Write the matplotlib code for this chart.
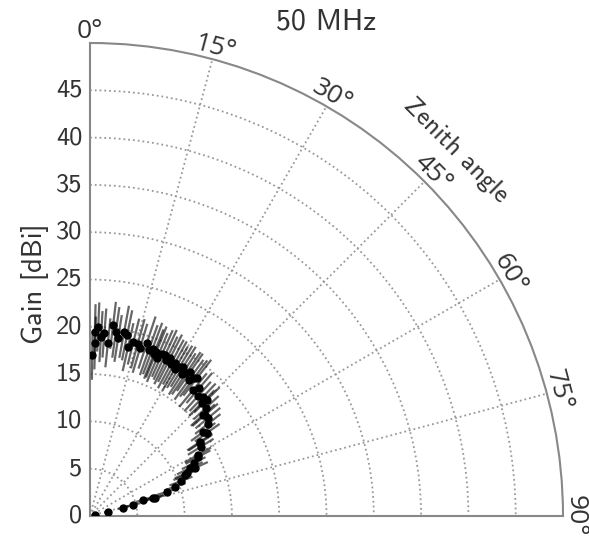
import numpy as np
import matplotlib.pyplot as plt

zenith_deg = [
    0.8, 1.5, 1.7, 2.5, 3.5, 4.5, 5.9, 6.9, 8.0, 9.0, 10.5, 11.6, 12.7, 14.0,
    15.5, 16.6, 18.2, 19.5, 20.5, 21.5, 22.0, 23.0, 24.0, 25.0, 26.0, 26.9,
    28.0, 29.0, 30.0, 31.0, 32.0, 33.0, 34.0, 34.8, 36.0, 37.0, 37.8, 39.3,
    40.5, 42.0, 43.5, 44.7, 45.2, 47.0, 48.2, 48.7, 50.3, 52.0, 53.4, 54.6,
    56.0, 56.4, 58.0, 60.5, 61.4, 63.0, 64.4, 65.4, 66.0, 66.7, 69.0, 71.0,
    72.5, 74.0, 74.5, 73.0, 75.6, 76.0, 77.0, 80.0,
]
gain_dbi = [
    17.0, 19.5, 18.3, 20.0, 19.0, 19.4, 18.4, 20.3, 19.6, 19.0, 19.8, 19.5, 18.3, 19.0,
    18.9, 18.5, 19.3, 18.6, 18.9, 18.4, 18.7, 18.2, 18.8, 18.8, 18.3, 18.7,
    18.2, 18.5, 18.0, 18.4, 18.6, 17.9, 18.2, 18.5, 17.8, 18.2, 18.5, 17.2,
    17.8, 17.0, 17.3, 16.8, 17.4, 16.8, 16.0, 16.2, 16.2, 15.8, 14.9, 15.2,
    14.0, 14.0, 13.8, 13.1, 13.0, 12.3, 11.7, 12.2, 11.2, 10.9, 10.3, 9.5,
    8.5, 6.9, 7.1, 5.85, 4.7, 3.6, 1.95, 0.5,
]
gain_err = [
    2.6, 2.9, 2.8, 2.6, 2.7, 2.6, 2.6, 2.5, 2.7, 2.5, 2.8, 2.7, 2.6, 2.5,
    2.7, 2.7, 2.9, 2.8, 2.9, 2.8, 2.9, 2.8, 2.7, 2.9, 2.8, 2.8,
    2.9, 2.6, 2.7, 2.6, 2.5, 2.6, 2.7, 2.4, 2.6, 2.4, 2.4, 2.3,
    2.1, 2.1, 2.0, 1.9, 1.9, 1.8, 1.7, 1.8, 1.7, 1.7, 1.6, 1.6,
    1.6, 1.5, 1.6, 1.6, 1.5, 1.4, 1.5, 1.5, 1.4, 1.3, 1.3, 1.2,
    1.1, 1.2, 1.0, 0.8, 0.8, 0.6, 0.4, 0.2,
]

theta_ticks = [0, 15, 30, 45, 60, 75, 90]
r_ticks = [0, 5, 10, 15, 20, 25, 30, 35, 40, 45]

plt.rcParams['font.family'] = ['cmss10', 'DejaVu Sans']
plt.rcParams['font.size'] = 18
plt.rcParams['axes.unicode_minus'] = False

fig = plt.figure(figsize=(5.89, 5.41), dpi=100)
ax = fig.add_axes([90 / 589, 25 / 541, 473 / 589, 473 / 541], projection='polar')
ax.set_theta_zero_location('N')
ax.set_theta_direction(-1)
ax.set_thetamin(0)
ax.set_thetamax(90)
ax.set_rlim(0, 50)

ax.set_xticks(np.deg2rad(theta_ticks))
ax.set_xticklabels([f"{t}°" for t in theta_ticks], family='Open Sans')
ax.set_yticks(r_ticks)
ax.set_yticklabels([str(r) for r in r_ticks], family='Open Sans')
ax.tick_params(axis='x', labelrotation='auto', pad=-2, labelsize=19,
               colors='#333333', labelcolor='#333333')
ax.tick_params(axis='y', labelsize=19, pad=2, colors='#333333', labelcolor='#333333')
ax.grid(True, color='#999999', linestyle=':', linewidth=1.3)
for sp in ax.spines.values():
    sp.set_color('#888888')
    sp.set_linewidth(1.5)

ax.errorbar(np.deg2rad(zenith_deg), gain_dbi, yerr=gain_err, fmt='o',
            color='k', ms=5, ecolor=(0, 0, 0, 0.6), elinewidth=1.6,
            capsize=0, zorder=5)

ax.text(np.deg2rad(45), 54.7, 'Zenith angle', rotation=-45, ha='center',
        va='center', fontsize=19, color='#333333', clip_on=False)
fig.text(326 / 589, 1 - 22 / 541, '50 MHz', ha='center', va='center',
         fontsize=21.5, color='#333333')
fig.text(35 / 589, 1 - 284 / 541, 'Gain [dBi]', rotation=90, ha='center',
         va='center', fontsize=20.5, color='#333333')

fig.savefig('out.png', dpi=100)
